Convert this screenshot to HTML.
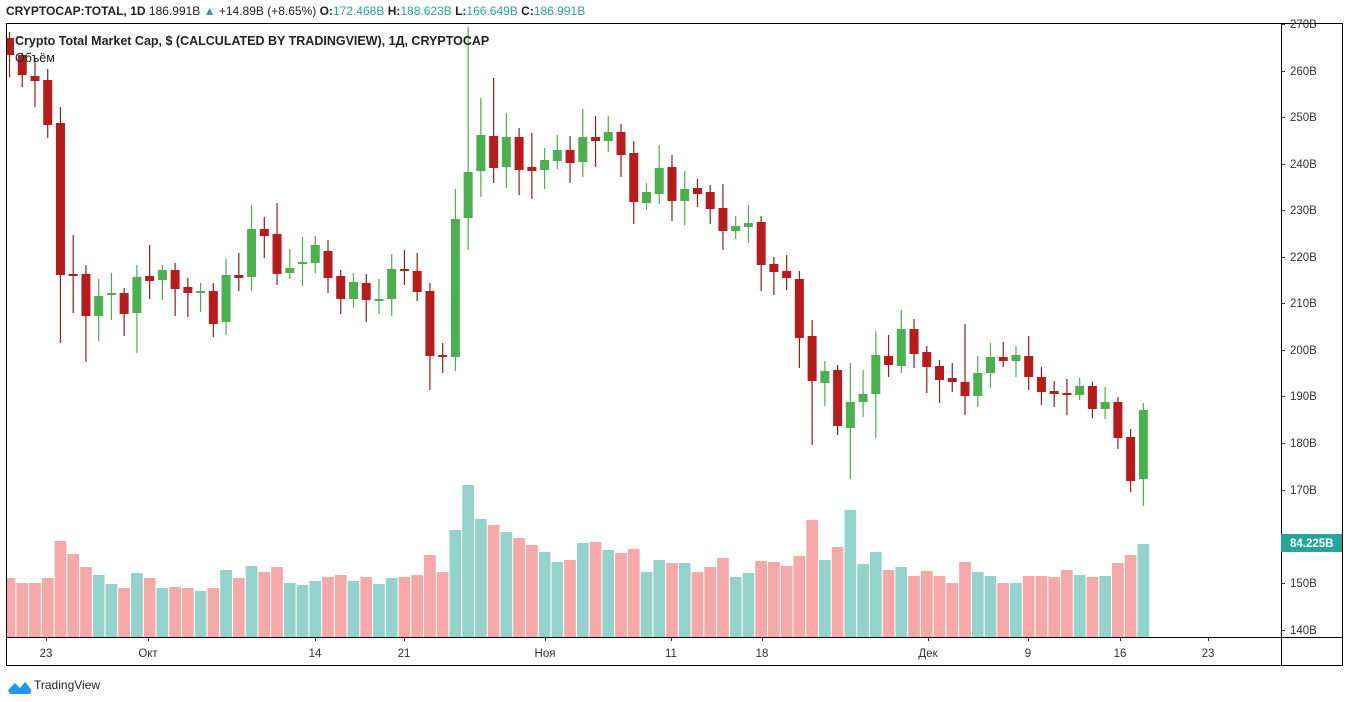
<!DOCTYPE html>
<html><head><meta charset="utf-8"><style>
html,body{margin:0;padding:0;background:#fff;width:1348px;height:702px;overflow:hidden;font-family:"Liberation Sans","DejaVu Sans",sans-serif}
svg{position:absolute;left:0;top:0}
</style></head><body>
<svg id="s" width="1348" height="702" xmlns="http://www.w3.org/2000/svg">
<text x="6" y="15" font-size="12" fill="#222"><tspan font-weight="bold">CRYPTOCAP:TOTAL, 1D</tspan> 186.991B <tspan fill="#26a69a">▲</tspan> +14.89B (+8.65%) <tspan font-weight="bold">O:</tspan><tspan fill="#26a69a">172.468B</tspan> <tspan font-weight="bold">H:</tspan><tspan fill="#26a69a">188.623B</tspan> <tspan font-weight="bold">L:</tspan><tspan fill="#26a69a">166.649B</tspan> <tspan font-weight="bold">C:</tspan><tspan fill="#26a69a">186.991B</tspan></text>
<g id="vol"></g><g id="cdl"></g>
<g stroke="#000" stroke-width="1" fill="none" shape-rendering="crispEdges">
<path d="M6.5 23.5H1342.5V665.5H6.5Z"/><path d="M1281.5 23.5V665.5M6.5 637.5H1342.5"/>
</g>
<g id="ax" font-size="11.5" fill="#333"></g>
<rect x="1281" y="534" width="61" height="18" fill="#26a69a"/>
<text x="1290" y="547" font-size="11.5" font-weight="bold" fill="#fff">84.225B</text>
<text x="15" y="45" font-size="12.5" font-weight="bold" fill="#222">Crypto Total Market Cap, $ (CALCULATED BY TRADINGVIEW), 1Д, CRYPTOCAP</text>
<text x="15" y="62" font-size="12.5" fill="#222">Объём</text>
<path d="M8 690 l7 -7 l5 5 l5 -6 l5 6 a5 5 0 0 1 0 6 h-20z" fill="#2196f3"/>
<text x="34" y="689" font-size="12" fill="#222">TradingView</text>
</svg>
<script>
var C=[[1,38,55,32,77],[1,55,75,53,87],[1,76,81,58,107],[1,80,125,69,138],[1,123,275,107,343],[1,274,276,235,313],[1,274,316,265,362],[0,296,316,279,341],[0,293,295,273,320],[1,293,314,288,336],[0,277,313,265,353],[1,276,281,245,299],[0,270,280,265,300],[1,270,289,263,316],[1,287,293,278,317],[0,291,292,283,312],[1,291,324,283,337],[0,275,322,259,335],[1,275,278,253,291],[0,229,277,205,291],[1,229,236,217,258],[1,234,274,203,285],[0,268,273,249,279],[0,262,264,237,286],[0,245,263,236,273],[1,251,278,240,293],[1,276,299,270,314],[0,282,299,273,308],[1,283,300,274,322],[0,299,300,279,314],[0,269,299,254,316],[1,269,270,250,285],[1,271,292,253,301],[1,291,356,283,390],[1,355,357,343,373],[0,219,357,189,371],[0,172,218,27,250],[0,135,171,98,197],[1,136,168,78,183],[0,137,167,113,188],[1,137,170,128,195],[1,167,171,133,199],[0,160,170,148,189],[0,150,161,135,169],[1,150,163,136,183],[0,137,162,109,177],[1,137,141,116,167],[0,132,141,116,152],[1,132,155,124,177],[1,153,202,141,224],[0,192,203,183,210],[0,168,194,145,204],[1,167,201,155,221],[0,189,201,171,225],[1,188,194,179,207],[1,192,209,185,224],[1,208,231,184,250],[0,226,231,216,239],[0,223,227,205,243],[1,222,265,216,291],[1,264,272,257,295],[1,271,278,255,290],[1,279,338,271,368],[1,336,381,320,445],[0,371,383,361,406],[1,370,426,365,435],[0,402,428,363,479],[0,394,402,370,417],[0,355,394,331,438],[1,356,365,335,377],[0,329,366,310,373],[1,329,354,319,368],[1,352,367,346,393],[1,366,380,360,403],[1,378,382,363,392],[1,382,396,324,415],[0,373,396,356,407],[0,357,373,343,388],[1,357,361,342,367],[0,355,361,346,377],[1,356,377,336,390],[1,377,392,367,405],[1,391,394,381,407],[1,393,395,379,415],[0,386,395,378,400],[1,386,409,382,418],[0,402,409,387,419],[1,402,438,397,449],[1,437,481,429,492],[0,410,479,403,506]];
var V=[578,583,583,578,541,554,567,575,584,588,573,578,588,587,588,591,588,570,578,566,572,567,583,585,581,577,575,581,577,584,578,577,575,555,572,530,485,519,525,532,538,545,552,562,560,543,542,550,553,549,572,560,563,563,572,567,558,577,573,561,562,566,556,520,560,547,510,564,552,570,567,576,571,576,583,562,572,576,583,583,576,576,577,570,575,577,576,563,555,544];
var ns="http://www.w3.org/2000/svg";
function el(p,t,a,txt){var e=document.createElementNS(ns,t);for(var k in a)e.setAttribute(k,a[k]);if(txt)e.textContent=txt;document.getElementById(p).appendChild(e);}
for(var i=0;i<90;i++){var x=9.5+i*12.74,c=C[i],red=c[0];
var bx=Math.max(7,x-5.85),bw=x+5.85-bx;
el("vol","rect",{x:bx,y:V[i],width:bw,height:637-V[i],fill:red?"#f5a9a8":"#94d2cc"});
var col=red?"#b71c1c":"#4caf50";
el("cdl","rect",{x:x-0.6,y:c[3],width:1.2,height:c[4]-c[3],fill:red?"#8e2020":"#4caf50"});
var h=Math.max(2,c[2]-c[1]);
var l=Math.max(7,x-4.5);
el("cdl","rect",{x:l,y:c[1],width:x+4.5-l,height:h,fill:col});}
var P=[["270B",24],["260B",71],["250B",117],["240B",164],["230B",210],["220B",257],["210B",303],["200B",350],["190B",396],["180B",443],["170B",490],["150B",583],["140B",630]];
P.forEach(function(p){el("ax","rect",{x:1281,y:p[1],width:4,height:1,fill:"#333"});el("ax","text",{x:1290,y:p[1]+4},p[0]);});
var T=[["23",46],["Окт",148],["14",315],["21",404],["Ноя",545],["11",671],["18",762],["Дек",928],["9",1028],["16",1120],["23",1208]];
T.forEach(function(t){el("ax","rect",{x:t[1],y:637,width:1,height:4,fill:"#333"});el("ax","text",{x:t[1],y:657,"text-anchor":"middle"},t[0]);});
</script>
</body></html>
